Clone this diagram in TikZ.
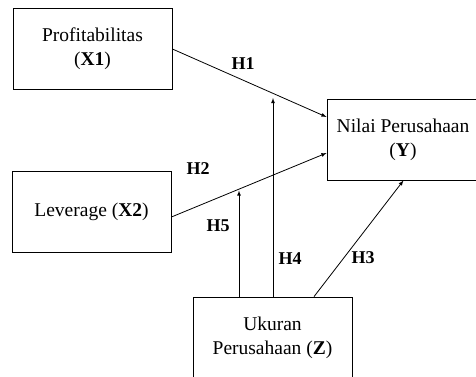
\documentclass[tikz,border=0pt]{standalone}
\usepackage{fontspec}
\setmainfont{Liberation Serif}
\usetikzlibrary{arrows}

\tikzset{
	varbox/.style={draw, line width=0.8pt, minimum width=159pt, minimum height=81pt, align=center, font=\fontsize{19.5}{24}\selectfont},
	hlabel/.style={font=\fontsize{18}{20}\selectfont\bfseries}
}

\begin{document}
\begin{tikzpicture}[x=1pt, y=-1pt, line width=0.8pt]
	\useasboundingbox (0,0) rectangle (476,376);
	% variabel
	\node[varbox] (x1) at (92.5,49) {Profitabilitas\\(\textbf{X1})};
	\node[varbox] (x2) at (91.5,211.5) {Leverage (\textbf{X2})};
	\node[varbox, minimum width=152pt] (y) at (403,139.5) {Nilai Perusahaan\\(\textbf{Y})};
	\node[varbox] (z) at (272.5,337.5) {Ukuran\\Perusahaan (\textbf{Z})};
	\coordinate (h4end) at (273,98);
	\coordinate (h5end) at (239,190.5);
	% panah
	\draw[-latex] (x1.east) -- ([yshift=22.5pt]y.west);
	\draw[-latex] ([yshift=-5.5pt]x2.east) -- ([yshift=-13.5pt]y.west);
	\draw[-latex] ([xshift=41.5pt]z.north) -- ([xshift=0.5pt]y.south);
	\draw[-latex] ([xshift=0.5pt]z.north) -- (h4end);
	\draw[-latex] ([xshift=-33.5pt]z.north) -- (h5end);
	% label
	\node[hlabel] (lh1) at (243,64) {H1};
	\node[hlabel] (lh2) at (198,169) {H2};
	\node[hlabel] (lh3) at (363,258) {H3};
	\node[hlabel] (lh4) at (290,259) {H4};
	\node[hlabel] (lh5) at (218,226) {H5};
\end{tikzpicture}
\end{document}
